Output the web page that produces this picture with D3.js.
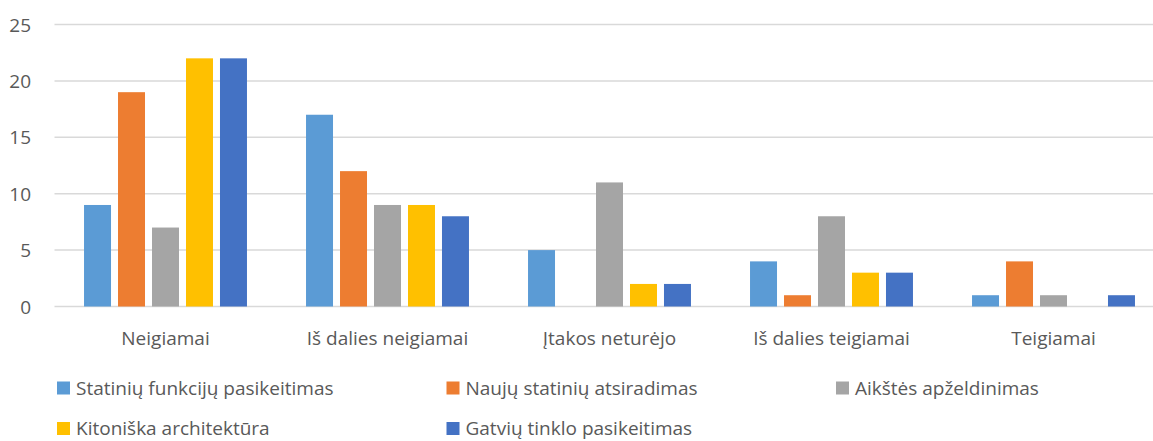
<!DOCTYPE html>
<html>
<head>
<meta charset="utf-8">
<script src="https://cdn.jsdelivr.net/npm/d3@7"></script>
<style>
  html, body { margin: 0; padding: 0; background: #fff; }
  svg { display: block; }
  text { font-family: "Open Sans", sans-serif; fill: #595959; }
</style>
</head>
<body>
<svg id="chart" width="1153" height="441"></svg>
<script>
const categories = ["Neigiamai", "Iš dalies neigiamai", "Įtakos neturėjo", "Iš dalies teigiamai", "Teigiamai"];
const seriesNames = ["Statinių funkcijų pasikeitimas", "Naujų statinių atsiradimas", "Aikštės apželdinimas", "Kitoniška architektūra", "Gatvių tinklo pasikeitimas"];
const statiniuFunkciju = [9, 17, 5, 4, 1];
const naujuStatiniu = [19, 12, 0, 1, 4];
const aikstesApzeldinimas = [7, 9, 11, 8, 1];
const kitoniskaArchitektura = [22, 9, 2, 3, 0];
const gatviuTinklo = [22, 8, 2, 3, 1];
const yTicks = [0, 5, 10, 15, 20, 25];
const colors = ["#5B9BD5", "#ED7D31", "#A5A5A5", "#FFC000", "#4472C4"];

const seriesValues = [statiniuFunkciju, naujuStatiniu, aikstesApzeldinimas, kitoniskaArchitektura, gatviuTinklo];

const svg = d3.select("#chart");
const fontSize = 19;

const x0 = d3.scaleBand().domain(categories).range([54.5, 1164.5]).paddingInner(0.266).paddingOuter(0.133);
const x1 = d3.scaleBand().domain(d3.range(seriesNames.length)).range([0, x0.bandwidth()]).paddingInner(0.206).paddingOuter(0);
const y = d3.scaleLinear().domain([0, 25]).range([306.5, 24.5]);

// gridlines
const grid = svg.append("g").attr("class", "grid");
grid.selectAll("line").data(yTicks).join("line")
  .attr("x1", 54.5).attr("x2", 1153)
  .attr("y1", d => y(d)).attr("y2", d => y(d))
  .attr("stroke", "#d9d9d9").attr("stroke-width", 1.5);

// y axis labels
const yAxis = d3.axisLeft(y).tickValues(yTicks).tickSize(0).tickPadding(0);
const yg = svg.append("g").attr("transform", "translate(31,0)").call(yAxis);
yg.select(".domain").remove();
yg.selectAll("text").attr("font-size", fontSize).attr("font-family", "Open Sans, sans-serif")
  .attr("fill", "#595959").attr("dy", "0.35em").attr("x", 0).attr("text-anchor", "end");

// bars
const groups = svg.append("g").selectAll("g").data(categories).join("g")
  .attr("transform", d => `translate(${x0(d)},0)`);
groups.selectAll("rect").data((c, ci) => seriesValues.map((vals, si) => ({ si, v: vals[ci] })))
  .join("rect")
  .attr("x", d => x1(d.si))
  .attr("width", x1.bandwidth())
  .attr("y", d => y(d.v))
  .attr("height", d => y(0) - y(d.v))
  .attr("fill", d => colors[d.si]);

// x axis labels
const xAxis = d3.axisBottom(x0).tickSize(0).tickPadding(0);
const xg = svg.append("g").attr("transform", "translate(0,338)").call(xAxis);
xg.select(".domain").remove();
xg.selectAll("text").attr("font-size", fontSize).attr("font-family", "Open Sans, sans-serif")
  .attr("fill", "#595959").attr("dy", "0.35em").attr("y", 0);

// legend
const legendCols = [57, 446.5, 836];
const legendRows = [388, 428.5];
const legend = svg.append("g").selectAll("g").data(seriesNames).join("g")
  .attr("transform", (d, i) => `translate(${legendCols[i % 3]},${legendRows[Math.floor(i / 3)]})`);
legend.append("rect").attr("x", 0).attr("y", -6.5).attr("width", 13).attr("height", 13)
  .attr("fill", (d, i) => colors[i]);
legend.append("text").attr("x", 19).attr("y", 0).attr("dy", "0.35em")
  .attr("font-size", fontSize).text(d => d);
</script>
</body>
</html>
